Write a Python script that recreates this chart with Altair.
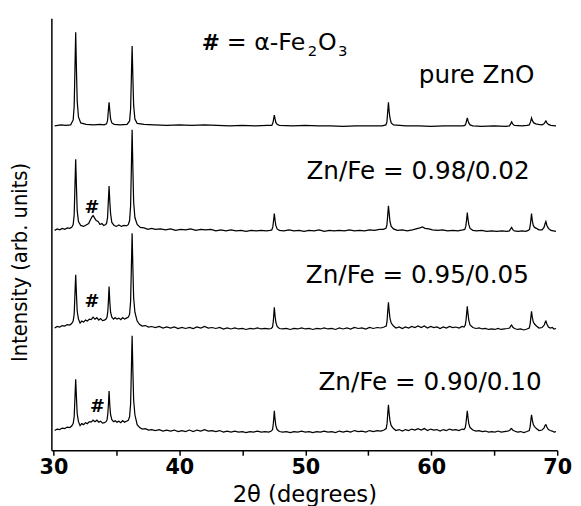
import altair as alt
import pandas as pd

# ---- data (2theta in degrees, intensity in arbitrary units, offsets already applied) ----
SERIES = ["pure ZnO", "Zn/Fe = 0.98/0.02", "Zn/Fe = 0.95/0.05", "Zn/Fe = 0.90/0.10"]

PURE = [(30.1,329),(30.6,330),(31.0,329.5),(31.37,330),(31.57,335),(31.65,349),(31.71,386),(31.77,424),
        (31.83,386),(31.89,354),(31.99,338),(32.17,332),(32.6,330.5),(33.2,330),(33.7,330.5),(34.02,330),
        (34.22,331),(34.30,334.5),(34.36,344),(34.42,353),(34.48,344),(34.54,336),(34.64,332),(34.82,330.5),
        (35.3,330),(35.85,330.5),(36.05,334),(36.13,346),(36.19,378),(36.25,410),(36.31,378),(36.37,350),
        (36.47,336),(36.65,331.5),(37.2,330.5),(38,330),(39,329.5),(40,330),(41,329.5),(42,330),(43,329.5),
        (44,329),(45,329.5),(46,329),(47.0,329.5),(47.34,329.5),(47.42,331.5),(47.48,335.5),(47.54,340),
        (47.60,336),(47.66,332.5),(47.76,330.5),(47.94,329.5),(49,329),(50,329.5),(51,329),(52,329),(53,328.5),
        (54,329),(55,329),(56.1,329),(56.40,330),(56.48,333),(56.54,343),(56.60,353),(56.66,343),(56.72,337),
        (56.82,332),(57.0,330),(58,329),(59,329),(60,328.5),(61,329),(62,329),(62.5,329),(62.66,329.5),
        (62.74,331),(62.80,334),(62.86,337),(62.92,334),(62.98,332),(63.08,330),(63.3,329),(64,328.5),(65,329),
        (65.9,328.5),(66.2,329),(66.3,331),(66.38,333),(66.46,331),(66.6,329.5),(67.2,329),(67.6,329.5),
        (67.78,330),(67.88,333),(67.96,337),(68.04,334),(68.14,332),(68.3,331),(68.5,330.5),(68.8,330),
        (68.95,331),(69.05,333),(69.1,334),(69.18,332),(69.3,330.5),(69.5,329.5),(69.9,329)]

FE02 = [(30.1,223),(30.3,224.5),(30.5,223.5),(30.7,225),(30.9,224),(31.1,225.5),(31.3,225),(31.45,226),
        (31.57,229),(31.65,239),(31.71,267),(31.77,295),(31.83,267),(31.89,243),(31.99,232),(32.17,228),
        (32.4,227),(32.6,228.5),(32.8,230),(32.95,234),(33.05,236.5),(33.15,238),(33.25,236),(33.4,233),
        (33.55,232),(33.7,229),(33.85,230),(34.0,228),(34.15,229),(34.22,230),(34.30,236),(34.36,252),
        (34.42,268),(34.48,252),(34.54,240),(34.64,231),(34.82,228),(35.0,227),(35.2,228.5),(35.4,227),
        (35.6,228),(35.8,227.5),(35.95,229),(36.05,233),(36.13,248),(36.19,286),(36.25,325),(36.31,286),
        (36.37,252),(36.47,236),(36.65,229),(36.9,226),(37.2,225.5),(37.5,224),(37.8,225),(38.1,224),
        (38.5,224.5),(38.9,223.5),(39.3,224.5),(39.7,223),(40.1,224),(40.5,223.5),(40.9,224.5),(41.3,223),
        (41.7,224),(42.1,223.5),(42.5,224),(42.9,222.5),(43.3,223.5),(43.7,222.5),(44.1,223.5),(44.5,222.5),
        (44.9,223),(45.3,222),(45.7,223),(46.1,222.5),(46.5,223),(46.9,222.5),(47.2,223),(47.34,223.5),
        (47.42,226.5),(47.48,233),(47.54,240),(47.60,233),(47.66,228),(47.76,224.5),(47.94,223),(48.3,222.5),
        (48.7,223.5),(49.1,222.5),(49.5,223),(49.9,222),(50.3,223),(50.7,222.5),(51.1,223.5),(51.5,222),
        (51.9,223),(52.3,222.5),(52.7,223),(53.1,222.5),(53.5,223.5),(53.9,222.5),(54.3,223),(54.7,222.5),
        (55.1,223.5),(55.5,223),(55.9,224),(56.2,224),(56.40,225),(56.48,228.5),(56.54,238),(56.60,248),
        (56.66,240),(56.72,232),(56.82,227),(57.0,224.5),(57.3,223),(57.7,223.5),(58.1,222.5),(58.5,223.5),
        (58.8,224.5),(59.1,225.5),(59.3,226.5),(59.5,225),(59.8,224.5),(60.1,223.5),(60.5,223),(60.9,223.5),
        (61.3,222.5),(61.7,223),(62.1,222.5),(62.5,223.5),(62.66,224),(62.74,227),(62.80,233),(62.86,241),
        (62.92,234),(62.98,229),(63.08,225),(63.3,223),(63.6,222.5),(64.0,223),(64.4,222),(64.8,222.5),
        (65.2,222),(65.6,222.5),(66.0,222),(66.2,222.5),(66.3,224.5),(66.38,226),(66.46,224),(66.6,222.5),
        (66.9,222),(67.2,222.5),(67.5,222),(67.7,223),(67.80,224),(67.88,230),(67.96,240),(68.02,233),
        (68.1,228),(68.2,226),(68.35,225),(68.55,223.5),(68.8,223.5),(68.95,226),(69.04,230),(69.10,232),
        (69.18,228),(69.3,225),(69.5,223),(69.7,222.5),(69.9,222)]

FE05 = [(30.1,124),(30.3,125.5),(30.5,125),(30.7,126.5),(30.9,126),(31.1,127.5),(31.3,127),(31.45,128.5),
        (31.57,131),(31.65,138),(31.71,158),(31.77,178),(31.83,158),(31.89,141),(31.99,133),(32.12,129),
        (32.25,131),(32.4,130),(32.55,132),(32.7,131),(32.85,133),(33.0,132.5),(33.15,135),(33.3,133),
        (33.45,134.5),(33.6,132),(33.75,133.5),(33.9,131.5),(34.05,132),(34.18,133),(34.26,135),(34.32,141),
        (34.37,152),(34.42,166),(34.48,150),(34.54,140),(34.64,135),(34.78,133),(34.9,134.5),(35.05,133),
        (35.2,134),(35.35,132.5),(35.5,134.5),(35.65,133),(35.8,134),(35.95,135),(36.05,138),(36.13,151),
        (36.19,185),(36.25,220),(36.31,185),(36.37,155),(36.47,140),(36.65,131),(36.85,127.5),(37.05,126),
        (37.3,126.5),(37.55,125),(37.8,125.5),(38.1,124.5),(38.4,125.5),(38.7,124),(39.0,125),(39.3,124),
        (39.6,125),(39.9,123.5),(40.2,124.5),(40.5,123.5),(40.8,124.5),(41.1,123.5),(41.4,125),(41.7,124),
        (42.0,125.5),(42.3,124),(42.6,124.5),(42.9,123.5),(43.2,124.5),(43.5,123),(43.8,124),(44.1,123),
        (44.4,124),(44.7,123),(45.0,123.5),(45.3,122.5),(45.6,123.5),(45.9,123),(46.2,124),(46.5,123),
        (46.8,123.5),(47.1,123),(47.3,123.5),(47.40,125),(47.46,131),(47.50,138),(47.54,145),(47.60,136),
        (47.66,130),(47.76,125.5),(47.94,123.5),(48.2,123),(48.5,123.5),(48.8,122.5),(49.1,123.5),(49.4,123),
        (49.7,124),(50.0,123),(50.3,123.5),(50.6,122.5),(50.9,123.5),(51.2,123),(51.5,124),(51.8,123),
        (52.1,123.5),(52.4,122.5),(52.7,124),(53.0,123),(53.3,124),(53.6,123),(53.9,124.5),(54.2,123.5),
        (54.5,124),(54.8,123),(55.1,124.5),(55.4,123.5),(55.7,124.5),(56.0,124),(56.25,125),(56.42,126),
        (56.49,131),(56.55,142),(56.60,150),(56.66,141),(56.72,134),(56.82,129),(57.0,126),(57.2,124),
        (57.45,125),(57.7,123.5),(57.95,125),(58.2,124),(58.45,125.5),(58.7,124.5),(58.95,126),(59.2,124.5),
        (59.45,126),(59.7,124),(59.95,125.5),(60.2,124.5),(60.45,125),(60.7,123.5),(60.95,125),(61.2,124),
        (61.45,125.5),(61.7,124.5),(61.95,125),(62.2,124),(62.45,125.5),(62.6,125),(62.70,127),(62.76,132),
        (62.81,139),(62.86,146),(62.92,138),(62.98,132),(63.08,127),(63.3,124.5),(63.55,123.5),(63.8,124),
        (64.05,123),(64.3,123.5),(64.55,122.5),(64.8,123),(65.05,122.5),(65.3,123.5),(65.55,122.5),(65.8,123),
        (66.05,123.5),(66.22,124),(66.3,126),(66.38,127),(66.46,125),(66.6,123.5),(66.85,122.5),(67.1,123),
        (67.35,122),(67.6,123),(67.78,124),(67.85,128),(67.91,135),(67.96,141),(68.02,135),(68.1,130),
        (68.2,128),(68.35,126),(68.55,124),(68.8,124.5),(68.97,127),(69.05,130),(69.10,131),(69.18,128),
        (69.3,125),(69.45,124),(69.6,124.5),(69.75,123),(69.9,123.5)]

FE10 = [(30.1,20),(30.3,21.5),(30.5,21),(30.7,22.5),(30.9,22),(31.1,23.5),(31.3,23),(31.45,24.5),
        (31.57,27),(31.65,34),(31.71,53),(31.77,72),(31.83,53),(31.89,37),(31.99,29),(32.12,25),(32.25,27),
        (32.4,26),(32.55,28),(32.7,27),(32.85,29),(33.0,28.5),(33.15,30.5),(33.3,29),(33.45,30.5),(33.6,28.5),
        (33.75,29.5),(33.9,27.5),(34.05,28),(34.18,29),(34.26,31),(34.32,37),(34.37,47),(34.42,60),(34.48,45),
        (34.54,36),(34.64,31),(34.78,29),(34.9,30),(35.05,28.5),(35.2,29.5),(35.35,28),(35.5,30),(35.65,28.5),
        (35.8,29.5),(35.95,30.5),(36.05,34),(36.13,47),(36.19,81),(36.25,116),(36.31,81),(36.37,51),(36.47,36),
        (36.65,26),(36.85,23),(37.05,21.5),(37.3,22),(37.55,20.5),(37.8,21),(38.1,20),(38.4,21),(38.7,19.5),
        (39.0,20.5),(39.3,19.5),(39.6,20.5),(39.9,19),(40.2,20),(40.5,19),(40.8,20.5),(41.1,19),(41.4,20.5),
        (41.7,19.5),(42.0,21),(42.3,19.5),(42.6,20),(42.9,19),(43.2,20),(43.5,18.5),(43.8,19.5),(44.1,18.5),
        (44.4,19.5),(44.7,18.5),(45.0,19),(45.3,18),(45.6,19),(45.9,18.5),(46.2,19.5),(46.5,18.5),(46.8,19),
        (47.1,18.5),(47.3,19.5),(47.40,21),(47.46,27),(47.50,33),(47.54,40),(47.60,31),(47.66,25),(47.76,21),
        (47.94,19),(48.2,18.5),(48.5,19),(48.8,18),(49.1,19),(49.4,18.5),(49.7,19.5),(50.0,18.5),(50.3,19),
        (50.6,18),(50.9,19),(51.2,18.5),(51.5,19.5),(51.8,18.5),(52.1,19),(52.4,18),(52.7,19.5),(53.0,18.5),
        (53.3,19.5),(53.6,18.5),(53.9,20),(54.2,19),(54.5,19.5),(54.8,18.5),(55.1,20),(55.4,19),(55.7,20),
        (56.0,19.5),(56.25,20.5),(56.42,22),(56.49,27),(56.55,38),(56.60,46),(56.66,37),(56.72,30),(56.82,25),
        (57.0,22),(57.2,20),(57.45,21),(57.7,19.5),(57.95,21),(58.2,20),(58.45,21.5),(58.7,20.5),(58.95,22),
        (59.2,20.5),(59.45,22),(59.7,20),(59.95,21.5),(60.2,20.5),(60.45,21),(60.7,19.5),(60.95,21),(61.2,20),
        (61.45,21.5),(61.7,20.5),(61.95,21),(62.2,20),(62.45,21.5),(62.6,21),(62.70,23),(62.76,28),(62.81,34),
        (62.86,40),(62.92,33),(62.98,27),(63.08,23),(63.3,20.5),(63.55,19.5),(63.8,20),(64.05,19),(64.3,19.5),
        (64.55,18.5),(64.8,19),(65.05,18.5),(65.3,19.5),(65.55,18.5),(65.8,19),(66.05,19.5),(66.22,20),
        (66.3,21.5),(66.38,22),(66.46,20.5),(66.6,19.5),(66.85,18.5),(67.1,19),(67.35,18),(67.6,19),(67.78,20),
        (67.85,24),(67.91,31),(67.96,36),(68.02,31),(68.1,26),(68.2,24),(68.35,22),(68.55,20),(68.8,20.5),
        (68.97,23),(69.05,25.5),(69.10,26),(69.18,23.5),(69.3,21),(69.45,20),(69.6,19.5),(69.75,18.5),(69.9,19)]

# sample labels (text, x in degrees, y in arb. units)
LABEL_TEXT = ["pure ZnO", "Zn/Fe = 0.98/0.02", "Zn/Fe = 0.95/0.05", "Zn/Fe = 0.90/0.10"]
LABEL_X = [63.6, 58.95, 58.9, 59.9]
LABEL_Y = [372, 275, 170, 61]

# hematite markers
HASH_X = [33.06, 33.06, 33.49]
HASH_Y = [241, 145, 39]

# legend "# = alpha-Fe2O3" pieces
LEG_HASH_X = [42.5]
LEG_HASH_Y = [406]
LEG_TEXT = ["= α-Fe", "O"]
LEG_X = [43.77, 51.0]
LEG_Y = [406, 406]
LEG_SUB_TEXT = ["2", "3"]
LEG_SUB_X = [50.2, 52.6]
LEG_SUB_Y = [400, 400]

rows = []
for name, pts in zip(SERIES, [PURE, FE02, FE05, FE10]):
    for i, (x, y) in enumerate(pts):
        rows.append({"series": name, "idx": i, "x": x, "y": y})
df = pd.DataFrame(rows)

xscale = alt.Scale(domain=[29.84, 70.0], nice=False, zero=False)
yscale = alt.Scale(domain=[0, 438], nice=False, zero=False)

FONT = "DejaVu Sans"

lines = alt.Chart(df).mark_line(color="black", strokeWidth=1.25, clip=True).encode(
    x=alt.X("x:Q", scale=xscale,
            axis=alt.Axis(values=[30, 35, 40, 45, 50, 55, 60, 65, 70],
                          labelExpr="datum.value % 10 == 0 ? datum.label : ''",
                          title="2θ (degrees)", grid=False, tickSize=5, tickWidth=1.5,
                          tickColor="black", domainColor="black", domainWidth=1.5,
                          labelFont=FONT, labelFontWeight="bold", labelFontSize=21,
                          labelColor="black", labelPadding=2, labelFlush=False,
                          titleFont=FONT, titleFontSize=23, titleFontWeight="normal",
                          titleColor="black", titlePadding=6)),
    y=alt.Y("y:Q", scale=yscale,
            axis=alt.Axis(labels=False, ticks=False, grid=False, domainColor="black",
                          domainWidth=1.5, title="Intensity (arb. units)",
                          titleFont="Liberation Sans Narrow, DejaVu Sans Condensed",
                          titleFontSize=22, titleFontWeight="normal", titleColor="black",
                          titlePadding=20, titleY=247)),
    detail="series:N",
    order="idx:Q",
)

lab_df = pd.DataFrame({"t": LABEL_TEXT, "x": LABEL_X, "y": LABEL_Y})
labels = alt.Chart(lab_df).mark_text(font=FONT, fontSize=25, color="black",
                                     align="center", baseline="alphabetic").encode(
    x=alt.X("x:Q", scale=xscale), y=alt.Y("y:Q", scale=yscale), text="t:N")

hash_df = pd.DataFrame({"x": HASH_X, "y": HASH_Y, "t": ["#"] * 3})
hashes = alt.Chart(hash_df).mark_text(font=FONT, fontSize=18, fontWeight="bold", color="black",
                                      align="center", baseline="alphabetic").encode(
    x=alt.X("x:Q", scale=xscale), y=alt.Y("y:Q", scale=yscale), text="t:N")

lhash_df = pd.DataFrame({"x": LEG_HASH_X, "y": LEG_HASH_Y, "t": ["#"]})
lhash = alt.Chart(lhash_df).mark_text(font=FONT, fontSize=22, fontWeight="bold", color="black",
                                      align="center", baseline="alphabetic").encode(
    x=alt.X("x:Q", scale=xscale), y=alt.Y("y:Q", scale=yscale), text="t:N")

leg_df = pd.DataFrame({"t": LEG_TEXT, "x": LEG_X, "y": LEG_Y})
leg = alt.Chart(leg_df).mark_text(font=FONT, fontSize=24, color="black",
                                  align="left", baseline="alphabetic").encode(
    x=alt.X("x:Q", scale=xscale), y=alt.Y("y:Q", scale=yscale), text="t:N")

sub_df = pd.DataFrame({"t": LEG_SUB_TEXT, "x": LEG_SUB_X, "y": LEG_SUB_Y})
sub = alt.Chart(sub_df).mark_text(font=FONT, fontSize=15, color="black",
                                  align="left", baseline="alphabetic").encode(
    x=alt.X("x:Q", scale=xscale), y=alt.Y("y:Q", scale=yscale), text="t:N")

chart = alt.layer(lines, labels, hashes, lhash, leg, sub).properties(
    width=513, height=438,
    padding={"left": 44, "top": 7, "right": 16, "bottom": 53},
    autosize=alt.AutoSizeParams(type="none"),
    background="white",
).configure_view(stroke=None)

chart.save("out.html", embed_options={"renderer": "svg", "actions": False})
